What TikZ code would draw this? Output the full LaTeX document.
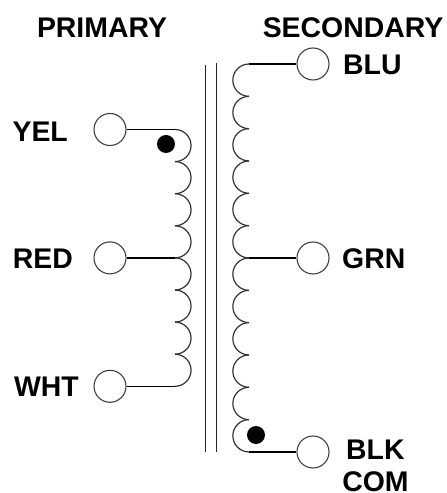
\documentclass[tikz,border=0pt]{standalone}
\usepackage{fontspec}
\setmainfont{Liberation Sans}
\usetikzlibrary{positioning}

\begin{document}
\begin{tikzpicture}[
  x=1pt,y=1pt,
  line width=1.3pt,
  every node/.style={font=\fontsize{28.4}{30}\selectfont\bfseries},
  terminal/.style={draw=black!75,circle,line width=1.1pt,minimum size=32pt,inner sep=0pt},
  polaritydot/.style={fill=black,circle,minimum size=18pt,inner sep=0pt},
  wirelabel/.style={inner sep=0pt,text height=20.4pt,text depth=0pt},
  winding/.style={draw=black!80,line width=1.2pt},
  corebar/.style={draw=black!85,line width=1.3pt}
]
\useasboundingbox (0,0) rectangle (447,493);

\node[wirelabel] (primary) at (102,466) {PRIMARY};
\node[wirelabel] (secondary) at (353,466) {SECONDARY};

% primary side
\node[terminal] (yel) at (110,363.5) {};
\node[terminal] (red) at (110,235.1) {};
\node[terminal] (wht) at (110,106.7) {};
\node[wirelabel,left=25pt of yel,yshift=-1.5pt] (yellab) {YEL};
\node[wirelabel,left=20pt of red] (redlab) {RED};
\node[wirelabel,left=14pt of wht] (whtlab) {WHT};
\node[polaritydot] (pdot) at (166,349) {};

% secondary side
\node[terminal] (blu) at (313,429) {};
\node[terminal] (grn) at (313,235) {};
\node[terminal] (blk) at (313,41) {};
\node[wirelabel,right=13pt of blu] (blulab) {BLU};
\node[wirelabel,right=12pt of grn] (grnlab) {GRN};
\node[wirelabel,right=16pt of blk,yshift=3pt] (blklab) {BLK};
\node[wirelabel,below=10.6pt of blklab] (comlab) {COM};
\node[polaritydot] (sdot) at (256,58) {};

% core
\coordinate (c1a) at (205.5,428);
\coordinate (c1b) at (205.5,41);
\coordinate (c2a) at (216.7,430);
\coordinate (c2b) at (216.7,41);
\draw[corebar] (c1a) -- (c1b);
\draw[corebar] (c2a) -- (c2b);

% windings
\foreach \i in {0,...,7} {
  \draw[winding] (175,363.5-\i*32.1) arc[start angle=90,end angle=-90,radius=16.05];
}
\foreach \i in {0,...,11} {
  \draw[winding] (249,429-\i*32.33) arc[start angle=90,end angle=270,radius=16.165];
}

\coordinate (ptop) at (175,363.5);
\coordinate (pmid) at (175,235.1);
\coordinate (pbot) at (175,106.7);
\coordinate (stop) at (249,429);
\coordinate (smid) at (249,235);
\coordinate (sbot) at (249,41);

\draw (yel) -- (ptop);
\draw (red) -- (pmid);
\draw (wht) -- (pbot);
\draw (stop) -- (blu);
\draw (smid) -- (grn);
\draw (sbot) -- (blk);
\end{tikzpicture}
\end{document}
